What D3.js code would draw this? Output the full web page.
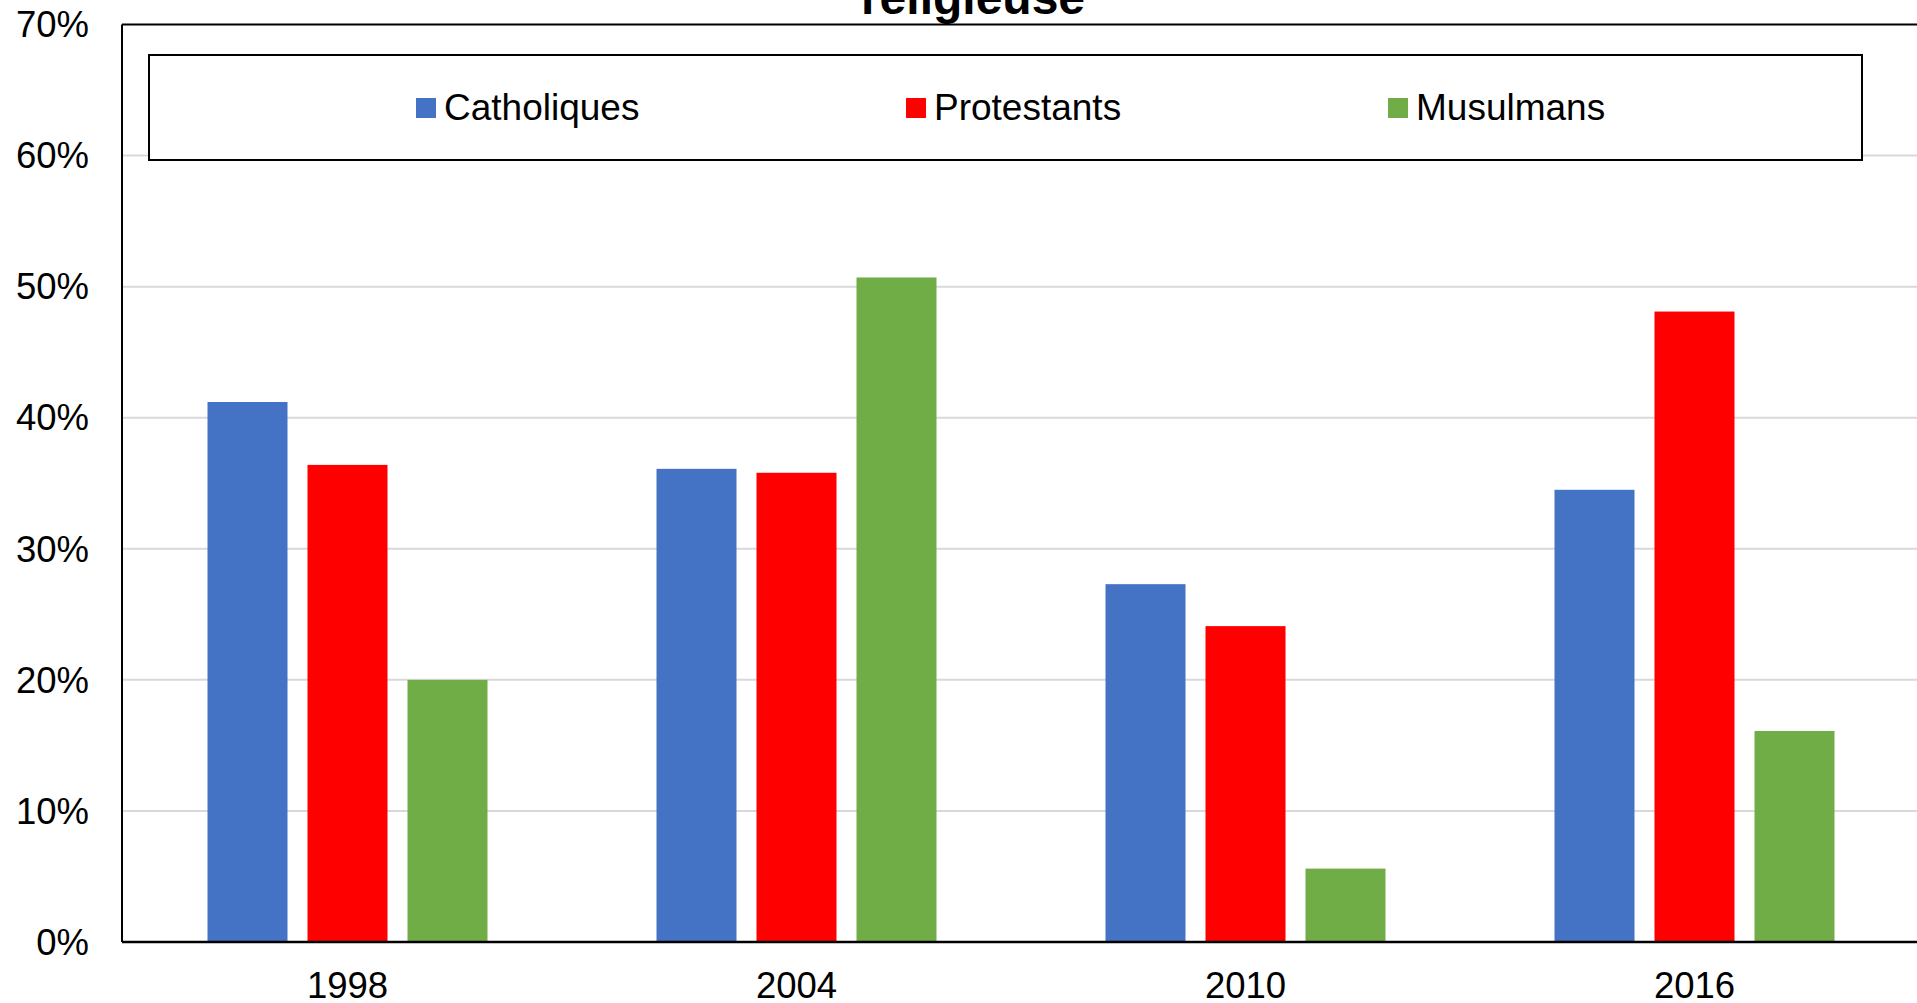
<!DOCTYPE html>
<html>
<head>
<meta charset="utf-8">
<script src="https://cdn.jsdelivr.net/npm/d3@7"></script>
<style>
  body { margin: 0; background: #fff; overflow: hidden; }
  svg { display: block; font-family: "Liberation Sans", Arial, sans-serif; }
</style>
</head>
<body>
<div id="chart"></div>
<script>
var W = 1917, H = 1003;

// data
var years = ["1998", "2004", "2010", "2016"];
var series = ["Catholiques", "Protestants", "Musulmans"];
var catholiques = [0.412, 0.361, 0.273, 0.345];
var protestants = [0.364, 0.358, 0.241, 0.481];
var musulmans = [0.200, 0.507, 0.056, 0.161];
var yTicks = [0, 0.1, 0.2, 0.3, 0.4, 0.5, 0.6, 0.7];
var colors = ["#4472C4", "#FF0000", "#70AD47"];

var values = [catholiques, protestants, musulmans];

// plot box (note: "top" is reserved on window)
var plotLeft = 122, plotRight = 1918, plotTop = 24.5, plotBottom = 942;

var x = d3.scaleBand().domain(years).range([plotLeft + 1, plotRight + 1]);
var x1 = d3.scaleBand().domain(series).range([0, x.bandwidth()])
	.paddingInner(0.2).paddingOuter(0.845);
var y = d3.scaleLinear().domain([0, 0.7]).range([plotBottom, plotTop]);

var svg = d3.select("#chart").append("svg")
	.attr("width", W)
	.attr("height", H);

// gridlines
svg.append("g")
	.selectAll("line")
	.data(yTicks.slice(1, -1))
	.enter()
	.append("line")
	.attr("x1", plotLeft)
	.attr("x2", W)
	.attr("y1", d => y(d))
	.attr("y2", d => y(d))
	.attr("stroke", "#d9d9d9")
	.attr("stroke-width", 2);

// bars
var groups = svg.append("g")
	.selectAll("g")
	.data(years)
	.enter()
	.append("g")
	.attr("transform", d => "translate(" + x(d) + ",0)");

groups.selectAll("rect")
	.data((d, i) => series.map((s, j) => ({ s: s, v: values[j][i], c: colors[j] })))
	.enter()
	.append("rect")
	.attr("x", d => x1(d.s))
	.attr("width", x1.bandwidth())
	.attr("y", d => y(d.v))
	.attr("height", d => y(0) - y(d.v))
	.attr("fill", d => d.c);

// frame: top, left, bottom
svg.append("line")
	.attr("x1", plotLeft).attr("x2", W)
	.attr("y1", plotTop).attr("y2", plotTop)
	.attr("stroke", "#000").attr("stroke-width", 2);
svg.append("line")
	.attr("x1", plotLeft).attr("x2", plotLeft)
	.attr("y1", plotTop).attr("y2", plotBottom)
	.attr("stroke", "#000").attr("stroke-width", 2);
svg.append("line")
	.attr("x1", plotLeft).attr("x2", W)
	.attr("y1", plotBottom).attr("y2", plotBottom)
	.attr("stroke", "#000").attr("stroke-width", 2.5);

// y labels
svg.append("g")
	.selectAll("text")
	.data(yTicks)
	.enter()
	.append("text")
	.attr("x", 89)
	.attr("y", d => y(d))
	.attr("dy", "0.35em")
	.attr("text-anchor", "end")
	.style("font-size", "36.5px")
	.attr("fill", "#000")
	.text(d => d3.format(".0%")(d));

// x labels
svg.append("g")
	.selectAll("text")
	.data(years)
	.enter()
	.append("text")
	.attr("x", d => x(d) + x.bandwidth() / 2)
	.attr("y", 998)
	.attr("text-anchor", "middle")
	.style("font-size", "36.5px")
	.attr("fill", "#000")
	.text(d => d);

// title (only its last line shows)
svg.append("text")
	.attr("x", 973)
	.attr("y", 14)
	.attr("text-anchor", "middle")
	.style("font-size", "48px")
	.style("font-weight", "bold")
	.attr("fill", "#000")
	.text("religieuse");

// legend
svg.append("rect")
	.attr("x", 149).attr("y", 55)
	.attr("width", 1713).attr("height", 105)
	.attr("fill", "#fff")
	.attr("stroke", "#000")
	.attr("stroke-width", 2);

var legendX = [416, 906, 1388];
var items = svg.append("g")
	.selectAll("g")
	.data(series)
	.enter()
	.append("g")
	.attr("transform", (d, i) => "translate(" + legendX[i] + ",0)");

items.append("rect")
	.attr("x", 0).attr("y", 98)
	.attr("width", 20).attr("height", 20)
	.attr("fill", (d, i) => colors[i]);

items.append("text")
	.attr("x", 28)
	.attr("y", 120)
	.style("font-size", "37px")
	.attr("fill", "#000")
	.text(d => d);
</script>
</body>
</html>
